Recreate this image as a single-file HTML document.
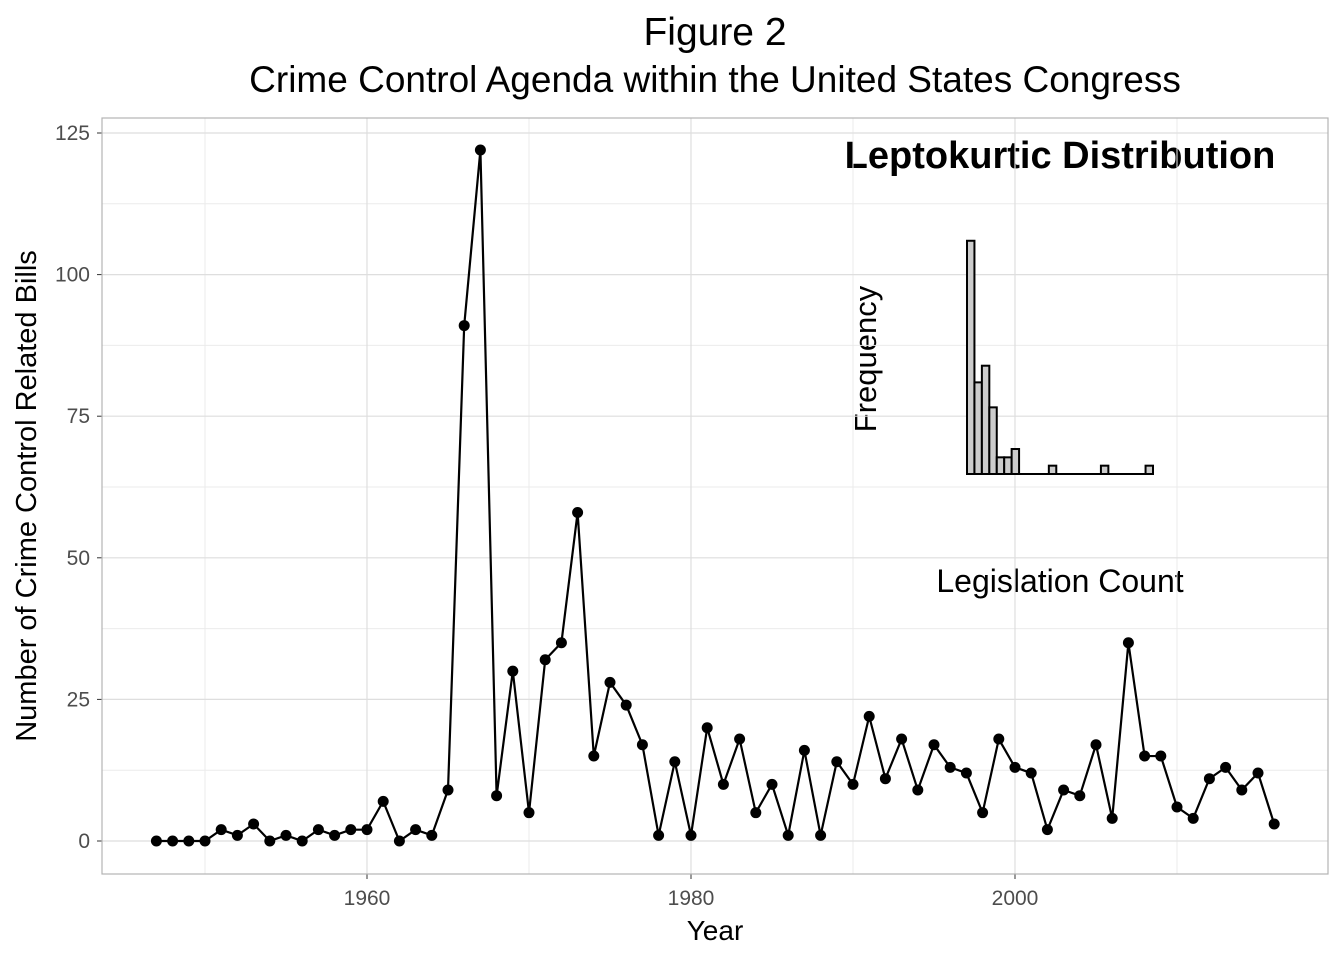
<!DOCTYPE html>
<html><head><meta charset="utf-8"><style>body{margin:0;background:#fff}svg{display:block;font-family:"Liberation Sans",Arial,sans-serif}</style></head>
<body>
<svg id="c" width="1344" height="960">
<text x="715" y="45" font-size="39" text-anchor="middle">Figure 2</text>
<text x="715" y="92" font-size="37" text-anchor="middle">Crime Control Agenda within the United States Congress</text>
<text x="715" y="940" font-size="28" text-anchor="middle">Year</text>
<text transform="translate(36,496) rotate(-90)" font-size="29" text-anchor="middle">Number of Crime Control Related Bills</text>
<text x="1060" y="168" font-size="38" font-weight="bold" text-anchor="middle">Leptokurtic Distribution</text>
<text x="1060" y="592" font-size="32" text-anchor="middle">Legislation Count</text>
<text transform="translate(876,359) rotate(-90)" font-size="31" text-anchor="middle">Frequency</text>
<g id="g"></g>
</svg>
<script>
const years=[];for(let y=1947;y<=2016;y++)years.push(y);
const bills=[0,0,0,0,2,1,3,0,1,0,2,1,2,2,7,0,2,1,9,91,122,8,30,5,32,35,58,15,28,24,17,1,14,1,20,10,18,5,10,1,16,1,14,10,22,11,18,9,17,13,12,5,18,13,12,2,9,8,17,4,35,15,15,6,4,11,13,9,12,3];
const yTicks=[0,25,50,75,100,125];
const xTicks=[1960,1980,2000];
const histCounts=[28,11,13,8,2,2,3,0,0,0,0,1,0,0,0,0,0,0,1,0,0,0,0,0,1];
const NS='http://www.w3.org/2000/svg';
const g=document.getElementById('g');
const X=v=>367+(v-1960)*16.2, Y=v=>841-v*5.664;
const L=102,R=1328,T=118,B=874;
function mk(t,a,p){const e=document.createElementNS(NS,t);for(const k in a)e.setAttribute(k,a[k]);(p||g).appendChild(e);return e;}
const grid=mk('g',{});


for(let v=12.5;v<=137.5;v+=25){if(Y(v)>T)mk('line',{x1:L,x2:R,y1:Y(v),y2:Y(v),stroke:'#ebebeb','stroke-width':1},grid);}
[1950,1970,1990,2010].forEach(v=>mk('line',{x1:X(v),x2:X(v),y1:T,y2:B,stroke:'#ebebeb','stroke-width':1},grid));
yTicks.forEach(v=>{mk('line',{x1:L,x2:R,y1:Y(v),y2:Y(v),stroke:'#dedede','stroke-width':1.2},grid);
mk('line',{x1:L-5,x2:L,y1:Y(v),y2:Y(v),stroke:'#333'});
const t=mk('text',{x:L-12,y:Y(v)+7,'font-size':21,fill:'#4d4d4d','text-anchor':'end'});t.textContent=v;

});
xTicks.forEach(v=>{mk('line',{x1:X(v),x2:X(v),y1:T,y2:B,stroke:'#dedede','stroke-width':1.2},grid);
mk('line',{x1:X(v),x2:X(v),y1:B,y2:B+5,stroke:'#333'});
const t=mk('text',{x:X(v),y:B+31,'font-size':21,fill:'#4d4d4d','text-anchor':'middle'});t.textContent=v;

});
const panel=mk('rect',{x:L,y:T,width:R-L,height:B-T,fill:'none',stroke:'#b3b3b3','stroke-width':1.2});


const hx=967,bw=7.44,hb=474,hu=8.33;
histCounts.forEach((c,i)=>{if(c>0){const r=mk('rect',{x:hx+i*bw,y:hb-c*hu,width:bw,height:c*hu,fill:'#cccccc',stroke:'#000','stroke-width':2});

}});
const hl=mk('line',{x1:hx,x2:hx+histCounts.length*bw,y1:hb,y2:hb,stroke:'#000','stroke-width':2});


const line=mk('polyline',{points:years.map((y,i)=>X(y)+','+Y(bills[i])).join(' '),fill:'none',stroke:'#000','stroke-width':2.2});


years.forEach((y,i)=>{const c=mk('circle',{cx:X(y),cy:Y(bills[i]),r:5.5,fill:'#000'});

});
</script>
</body></html>
